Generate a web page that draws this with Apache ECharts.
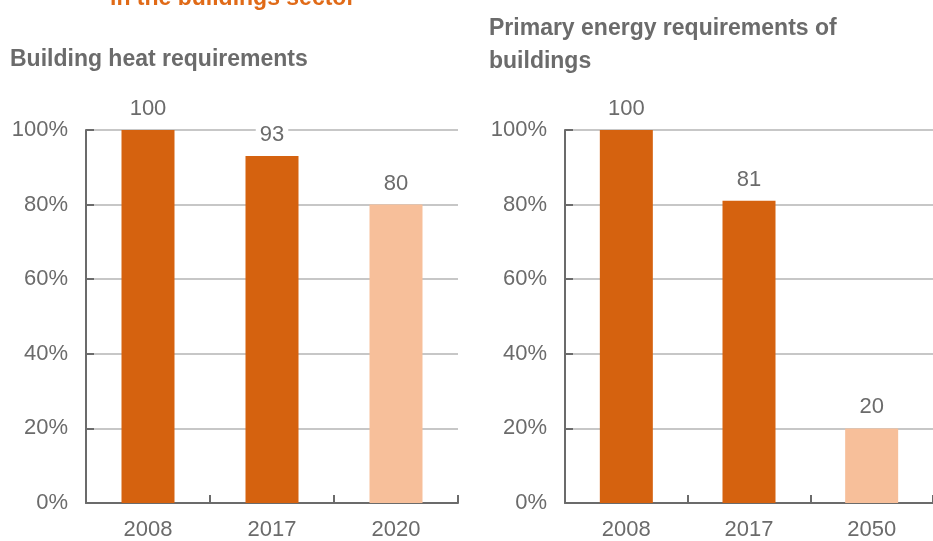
<!DOCTYPE html>
<html>
<head>
<meta charset="utf-8">
<script src="https://cdn.jsdelivr.net/npm/echarts@6/dist/echarts.min.js"></script>
<style>
html,body{margin:0;padding:0;background:#fff;}
#chart{width:933px;height:541px;}
</style>
</head>
<body>
<div id="chart"></div>
<script>
// ---- data ----
const headerText = 'in the buildings sector';
const titleHeat = 'Building heat requirements';
const titlePrimary = 'Primary energy requirements of\nbuildings';
const categoriesHeat = ['2008', '2017', '2020'];
const valuesHeat = [100, 93, 80];
const categoriesPrimary = ['2008', '2017', '2050'];
const valuesPrimary = [100, 81, 20];
const isTargetHeat = [false, false, true];
const isTargetPrimary = [false, false, true];
const yTicks = [0, 20, 40, 60, 80, 100];

// ---- style ----
const DARK = '#D5620F';
const LIGHT = '#F7BF9A';
const GREY = '#6b6b6b';
const FONT = '"Liberation Sans", Arial, Helvetica, sans-serif';

const chart = echarts.init(document.getElementById('chart'), null, {renderer: 'canvas'});

function yAxis(gridIndex) {
  return {
    type: 'value', gridIndex: gridIndex, min: yTicks[0], max: yTicks[yTicks.length - 1],
    interval: yTicks[1] - yTicks[0],
    axisLine: {show: true, lineStyle: {color: GREY, width: 2}},
    axisTick: {show: true, inside: true, length: 8, lineStyle: {color: GREY, width: 2}},
    axisLabel: {formatter: '{value}%', color: GREY, fontSize: 22, fontFamily: FONT, margin: 18},
    splitLine: {show: true, lineStyle: {color: '#b5b5b5', width: 1.5}}
  };
}
function xAxis(gridIndex, cats) {
  return {
    type: 'category', gridIndex: gridIndex, data: cats,
    axisLine: {show: true, lineStyle: {color: GREY, width: 2}},
    axisTick: {show: true, inside: true, length: 8, alignWithLabel: false, lineStyle: {color: GREY, width: 2}},
    axisLabel: {color: GREY, fontSize: 22, fontFamily: FONT, margin: 16},
    splitLine: {show: false}
  };
}
function barSeries(idx, values, flags) {
  return {
    type: 'bar', xAxisIndex: idx, yAxisIndex: idx, barWidth: 53,
    data: values.map((v, i) => ({value: v, itemStyle: {color: flags[i] ? LIGHT : DARK}})),
    label: {
      show: true, position: 'top', distance: 10, color: GREY, fontSize: 22, fontFamily: FONT,
      backgroundColor: '#fff', padding: [0, 4]
    },
    z: 3
  };
}

chart.setOption({
  animation: false,
  backgroundColor: '#fff',
  title: [
    {text: titleHeat, left: 10, top: 48, padding: 0,
     textStyle: {color: GREY, fontSize: 23, fontWeight: 'bold', fontFamily: FONT}},
    {text: titlePrimary, left: 489, top: 12, padding: 0,
     textStyle: {color: GREY, fontSize: 23, fontWeight: 'bold', fontFamily: FONT, lineHeight: 33}}
  ],
  graphic: [
    {type: 'text', left: 110, top: -13,
     style: {text: headerText, fill: '#E06A17', font: 'bold 23px ' + FONT}}
  ],
  grid: [
    {left: 86, top: 130, width: 372, height: 377, containLabel: false},
    {left: 565, top: 130, width: 372, height: 377, containLabel: false}
  ],
  xAxis: [xAxis(0, categoriesHeat), xAxis(1, categoriesPrimary)],
  yAxis: [yAxis(0), yAxis(1)],
  series: [barSeries(0, valuesHeat, isTargetHeat), barSeries(1, valuesPrimary, isTargetPrimary)]
});
</script>
</body>
</html>
